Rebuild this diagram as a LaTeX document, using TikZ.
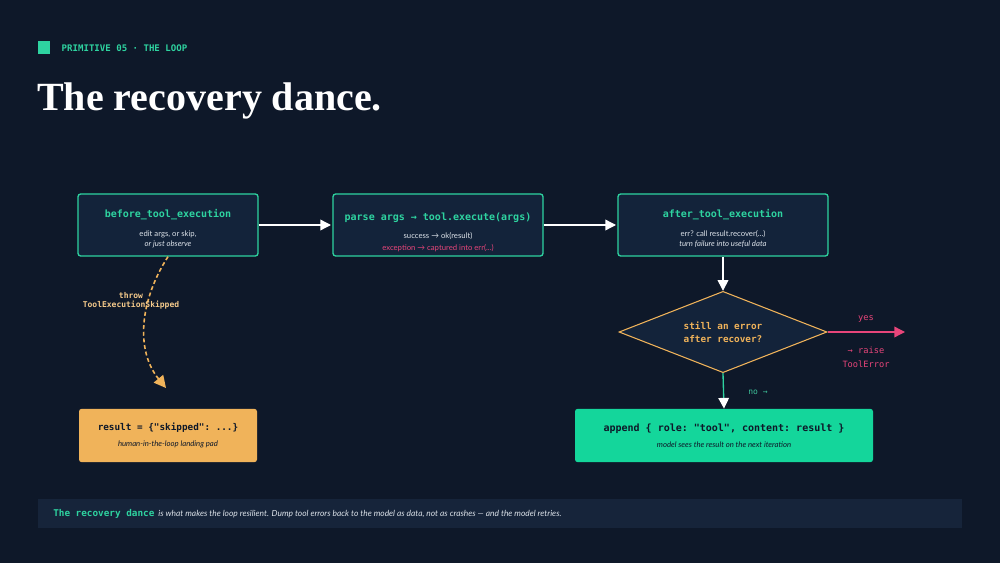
\documentclass[tikz,border=0pt]{standalone}
\usepackage{fontspec}
\setmainfont{Lato}
\setmonofont{DejaVu Sans Mono}
\newfontfamily\titlefont{Liberation Serif}
\usetikzlibrary{arrows.meta,shapes.geometric}
\definecolor{bgc}{HTML}{0E1829}
\definecolor{boxc}{HTML}{13233A}
\definecolor{bandc}{HTML}{16243A}
\definecolor{teal}{HTML}{2ED3A0}
\definecolor{mint}{HTML}{14D69B}
\definecolor{amber}{HTML}{F0B35A}
\definecolor{pinkc}{HTML}{E8457A}
\definecolor{greyc}{HTML}{DDE3EA}
\tikzstyle{stage} = [draw=teal, fill=boxc, rounded corners=2pt, line width=1pt, minimum width=135pt, minimum height=46.5pt, align=center, inner sep=0pt]
\tikzstyle{head} = [font=\ttfamily\bfseries\fontsize{7.5}{9}\selectfont, text=teal]
\tikzstyle{body} = [font=\fontsize{5.8}{7.5}\selectfont, text=greyc, align=center]
\tikzstyle{arrow} = [-{Triangle[length=8pt,width=8pt]}, line width=1pt, draw=white]

\begin{document}
\begin{tikzpicture}[x=0.75pt, y=-0.75pt]
	\fill[bgc] (0,0) rectangle (1000,563);
	\useasboundingbox (0,0) rectangle (1000,563);
	\fill[teal] (38,41) rectangle (50,54);
	\node[anchor=west, font=\ttfamily\bfseries\fontsize{6.8}{8}\selectfont, text=teal] (tag) at (57,48) {PRIMITIVE 05 · THE LOOP};
	\node[anchor=west, inner sep=0pt, font=\titlefont\bfseries\fontsize{30}{36}\selectfont, text=white] (title) at (37,101) {The recovery dance.};

	\node[stage, minimum width=135pt] (before) at (168,225) {};
	\node[head] at (168,215) {before\_tool\_execution};
	\node[body] at (168,239) {edit args, or skip,\\ \itshape or just observe};

	\node[stage, minimum width=157.5pt] (exec) at (438,225) {};
	\node[head] at (438,218) {parse args → tool.execute(args)};
	\node[body] at (438,236) {success → ok(result)};
	\node[body, text=pinkc] at (438,248) {exception → captured into err(...)};

	\node[stage, minimum width=157.5pt] (after) at (723,225) {};
	\node[head] at (723,215) {after\_tool\_execution};
	\node[body] at (723,238.5) {err? call result.recover(...)\\ \itshape turn failure into useful data};

	\node[diamond, draw=amber, fill=boxc, line width=0.8pt, minimum width=156pt, minimum height=61pt, inner sep=0pt, aspect=2.6] (check) at (723,332) {};
	\node[font=\ttfamily\bfseries\fontsize{7}{10}\selectfont, text=amber, align=center] at (723,332) {still an error\\after recover?};

	\node[fill=mint, rounded corners=2pt, minimum width=223.5pt, minimum height=40pt, inner sep=0pt] (append) at (724,435.5) {};
	\node[font=\ttfamily\bfseries\fontsize{7.5}{9}\selectfont, text=bgc] at (724,429) {append \{ role: "tool", content: result \}};
	\node[body, text=bgc, font=\itshape\fontsize{5.8}{7}\selectfont] at (724,445) {model sees the result on the next iteration};

	\node[fill=amber, rounded corners=2pt, minimum width=133.5pt, minimum height=40pt, inner sep=0pt] (skipped) at (168,435.5) {};
	\node[font=\ttfamily\bfseries\fontsize{7}{9}\selectfont, text=bgc] at (168,428) {result = \{"skipped": ...\}};
	\node[body, text=bgc, font=\itshape\fontsize{5.8}{7}\selectfont] at (168,444) {human-in-the-loop landing pad};

	\coordinate (raise) at (905,332);
	\draw[arrow] (before.east) -- ([xshift=-1pt]exec.west);
	\draw[arrow] (exec.east) -- ([xshift=-1pt]after.west);
	\draw[arrow] (after.south) -- (check.north);
	\draw[arrow, draw=pinkc] (check.east) -- (raise);
	\draw[arrow, draw=teal, -{Triangle[length=8pt,width=8pt,color=white]}] (check.south) -- (append.north);
	\draw[amber, dashed, dash pattern=on 3pt off 2pt, line width=1.2pt, -{Triangle[length=9pt,width=9pt]}] (before.south) .. controls (140,300) and (135,350) .. (166,388);

	\node[font=\ttfamily\bfseries\fontsize{6}{7}\selectfont, text=amber!70!white, align=center] at (131,301) {throw\\ToolExecutionSkipped};
	\node[font=\ttfamily\fontsize{6.5}{8}\selectfont, text=pinkc] at (866,319) {yes};
	\node[font=\ttfamily\fontsize{6.5}{10.5}\selectfont, text=pinkc, align=center] at (866,357) {→ raise\\ToolError};
	\node[font=\ttfamily\fontsize{6}{8}\selectfont, text=teal!80!gray] at (758,392) {no →};

	\fill[bandc] (38,499) rectangle (962,528);
	\node[anchor=west, inner sep=0pt, font=\itshape\fontsize{6.3}{8}\selectfont, text=greyc] (note) at (53,513.5) {{\upshape\ttfamily\bfseries\fontsize{7}{8}\selectfont\color{teal}The recovery dance}\ \ is what makes the loop resilient. Dump tool errors back to the model as data, not as crashes — and the model retries.};
\end{tikzpicture}
\end{document}
